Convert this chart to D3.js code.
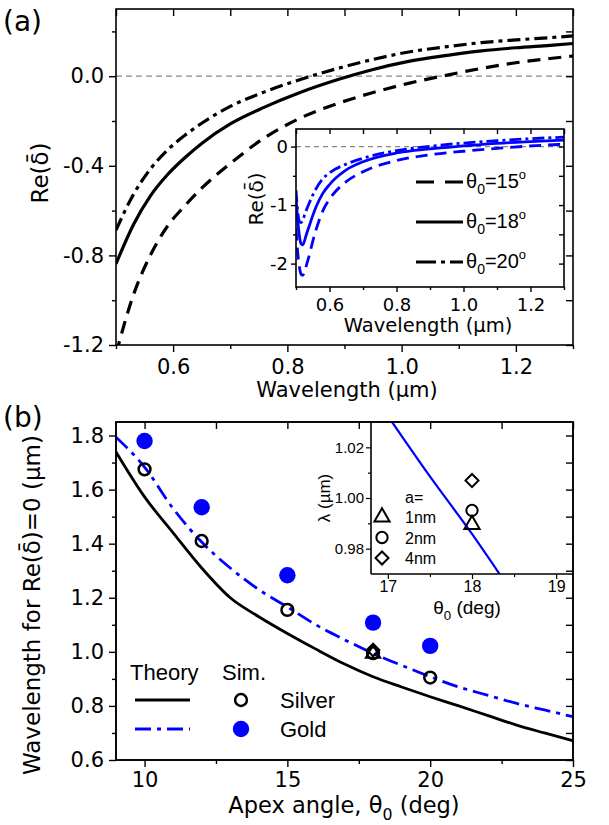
<!DOCTYPE html>
<html>
<head>
<meta charset="utf-8">
<script src="https://cdn.jsdelivr.net/npm/d3@7"></script>
<style>
body { margin: 0; background: #fff; }
svg { font-family: "Liberation Sans", Arial, sans-serif; }
</style>
</head>
<body>
<svg id="chart" width="609" height="825"></svg>
<script>
// ---- panel (a): Re(delta) vs wavelength, silver ----
const aWl = [0.5, 0.53, 0.56, 0.59, 0.62, 0.65, 0.7, 0.76, 0.82, 0.89, 0.95, 1.01, 1.08, 1.14, 1.2, 1.26, 1.3];
const a15 = [-1.24, -0.98, -0.80, -0.67, -0.58, -0.50, -0.39, -0.275, -0.19, -0.12, -0.073, -0.033, 0.005, 0.035, 0.06, 0.079, 0.09];
const a18 = [-0.8375, -0.665, -0.535, -0.44, -0.365, -0.30, -0.213, -0.138, -0.075, -0.014, 0.03, 0.065, 0.093, 0.113, 0.127, 0.138, 0.146];
const a20 = [-0.6875, -0.53, -0.415, -0.33, -0.265, -0.21, -0.135, -0.07, -0.017, 0.036, 0.075, 0.107, 0.132, 0.15, 0.162, 0.172, 0.18];

// ---- inset (a): gold ----
const inWl = [0.5, 0.505, 0.51, 0.515, 0.52, 0.525, 0.53, 0.54, 0.55, 0.56, 0.58, 0.6, 0.65, 0.7, 0.8, 0.9, 1.0, 1.1, 1.2, 1.3];
const in15 = [-1.4, -1.8, -2.05, -2.18, -2.2, -2.15, -2.05, -1.85, -1.62, -1.42, -1.1, -0.9, -0.6, -0.43, -0.24, -0.14, -0.08, -0.03, 0.01, 0.04];
const in18 = [-0.9, -1.25, -1.52, -1.66, -1.68, -1.62, -1.52, -1.35, -1.18, -1.03, -0.8, -0.65, -0.4, -0.26, -0.11, -0.04, 0.01, 0.055, 0.085, 0.11];
const in20 = [-0.75, -1.1, -1.28, -1.3, -1.26, -1.18, -1.1, -0.96, -0.83, -0.72, -0.55, -0.45, -0.3, -0.2, -0.07, 0.005, 0.06, 0.1, 0.135, 0.16];
const legendA = ['15', '18', '20'];

// ---- panel (b): wavelength for Re(delta)=0 vs apex angle ----
const bTheta = [9, 10, 11, 12, 13, 14, 15, 16, 17, 18, 19, 20, 21, 22, 23, 24, 25];
const bSilverTheory = [1.739, 1.573, 1.44, 1.31, 1.20, 1.13, 1.068, 1.01, 0.955, 0.908, 0.87, 0.834, 0.80, 0.765, 0.73, 0.70, 0.671];
const bGoldTheory = [1.794, 1.683, 1.53, 1.406, 1.31, 1.23, 1.166, 1.10, 1.045, 0.994, 0.95, 0.908, 0.87, 0.84, 0.81, 0.785, 0.76];
const simTheta = [10, 12, 15, 18, 20];
const simSilver = [1.675, 1.41, 1.155, 0.995, 0.905];
const simGold = [1.78, 1.535, 1.283, 1.108, 1.022];
const simA1 = [18, 0.99];
const simA4 = [18, 1.007];

// ---- inset (b) ----
const ibTheta = [17.0, 17.5, 18.0, 18.4];
const ibLambda = [1.0324, 1.0085, 0.9858, 0.9664];
const ibPoints = [
    { a: '1nm', sym: 'tri', theta: 18, lambda: 0.9895 },
    { a: '2nm', sym: 'circ', theta: 18, lambda: 0.9951 },
    { a: '4nm', sym: 'dia', theta: 18, lambda: 1.0069 }
];

// ticks
const aXMajor = [0.6, 0.8, 1.0, 1.2], aXMinor = [0.5, 0.7, 0.9, 1.1, 1.3];
const aYMajor = [0.0, -0.4, -0.8, -1.2], aYMinor = [0.2, -0.2, -0.6, -1.0];
const inYMajor = [0, -1, -2], inYMinor = [-0.5, -1.5];
const bXMajor = [10, 15, 20, 25], bXMinor = [12.5, 17.5, 22.5];
const bYMajor = [0.6, 0.8, 1.0, 1.2, 1.4, 1.6, 1.8], bYMinor = [0.7, 0.9, 1.1, 1.3, 1.5, 1.7];
const ibXMajor = [17, 18, 19], ibXMinor = [17.5, 18.5];
const ibYMajor = [0.98, 1.00, 1.02], ibYMinor = [0.99, 1.01];

const BLUE = '#0000ff';
const AXFONT = '"DejaVu Sans", sans-serif';
const LGFONT = '"Liberation Sans", Arial, sans-serif';
const svg = d3.select('#chart');

function addAxes(g, x, y, o) {
    const yb = y.range()[0], yt = y.range()[1];
    const xl = x.range()[0], xr = x.range()[1];
    const style = sel => {
        sel.select('.domain').remove();
        sel.selectAll('line').attr('stroke', '#000').attr('stroke-width', 1.4);
        sel.selectAll('text').attr('font-size', o.fs).attr('fill', '#000').attr('font-family', o.font);
    };
    g.append('g').attr('transform', `translate(0,${yb})`)
        .call(d3.axisBottom(x).tickValues(o.xMinor).tickSize(o.minor).tickFormat('')).call(style);
    g.append('g').attr('transform', `translate(0,${yb})`)
        .call(d3.axisBottom(x).tickValues(o.xMajor).tickSize(o.major).tickPadding(o.padX).tickFormat(o.xFmt)).call(style);
    g.append('g').attr('transform', `translate(${xl},0)`)
        .call(d3.axisLeft(y).tickValues(o.yMinor).tickSize(o.minor).tickFormat('')).call(style);
    g.append('g').attr('transform', `translate(${xl},0)`)
        .call(d3.axisLeft(y).tickValues(o.yMajor).tickSize(o.major).tickPadding(o.padY).tickFormat(o.yFmt)).call(style);
    if (o.mirror) {
        g.append('g').attr('transform', `translate(0,${yt})`)
            .call(d3.axisTop(x).tickValues(o.xMajor.concat(o.xMinor)).tickSize(-o.major).tickFormat('')).call(style);
        g.append('g').attr('transform', `translate(${xr},0)`)
            .call(d3.axisRight(y).tickValues(o.yMajor.concat(o.yMinor)).tickSize(-o.major).tickFormat('')).call(style);
    }
    if (o.frame) {
        g.append('rect').attr('x', xl).attr('y', yt).attr('width', xr - xl).attr('height', yb - yt)
            .attr('fill', 'none').attr('stroke', '#000').attr('stroke-width', 1.6);
    }
}

function drawLine(g, xs, ys, x, y, color, dash, w, clip) {
    const pts = xs.map((d, i) => [d, ys[i]]);
    const line = d3.line().x(d => x(d[0])).y(d => y(d[1])).curve(d3.curveMonotoneX);
    const p = g.append('path').datum(pts).attr('d', line).attr('fill', 'none')
        .attr('stroke', color).attr('stroke-width', w);
    if (dash) p.attr('stroke-dasharray', dash);
    if (clip) p.attr('clip-path', `url(#${clip})`);
    return p;
}

function addClip(id, x, y) {
    svg.append('clipPath').attr('id', id).append('rect')
        .attr('x', x.range()[0]).attr('y', y.range()[1])
        .attr('width', x.range()[1] - x.range()[0]).attr('height', y.range()[0] - y.range()[1]);
}

function thetaText(sel, after, size) {
    sel.append('tspan').text('θ');
    sel.append('tspan').text('0').attr('font-size', size * 0.7).attr('dy', size * 0.3);
    sel.append('tspan').text(after).attr('dy', -size * 0.3);
}

const DASH = '13,8', DASHDOT = '13,5,4,5';

// ================= panel (a) =================
function drawPanelA() {
    const x = d3.scaleLinear().domain([0.5, 1.3]).range([116, 573]);
    const y = d3.scaleLinear().domain([-1.2, 0.3]).range([345, 9]);
    const g = svg.append('g');
    addClip('clipA', x, y);

    g.append('line').attr('x1', x(0.5)).attr('x2', x(1.3)).attr('y1', y(0)).attr('y2', y(0))
        .attr('stroke', '#888').attr('stroke-width', 1.2).attr('stroke-dasharray', '6,4');
    drawLine(g, aWl, a15, x, y, '#000', DASH, 3.2, 'clipA');
    drawLine(g, aWl, a18, x, y, '#000', null, 3.2, 'clipA');
    drawLine(g, aWl, a20, x, y, '#000', DASHDOT, 3.2, 'clipA');

    addAxes(g, x, y, {
        xMajor: aXMajor, xMinor: aXMinor, yMajor: aYMajor, yMinor: aYMinor,
        xFmt: d => d.toFixed(1), yFmt: d => d.toFixed(1), font: AXFONT,
        fs: 21, major: 7, minor: 4, padX: 7, padY: 5, mirror: true, frame: true
    });

    g.append('text').attr('x', 347).attr('y', 397).attr('text-anchor', 'middle')
        .attr('font-family', AXFONT).attr('font-size', 21).text('Wavelength (µm)');
    g.append('text').attr('transform', 'translate(48,173) rotate(-90)').attr('text-anchor', 'middle')
        .attr('font-family', AXFONT).attr('font-size', 23).text('Re(δ\u0304)');
    svg.append('text').attr('x', 3).attr('y', 31).attr('font-family', AXFONT).attr('font-size', 28).text('(a)');

    // inset
    const xi = d3.scaleLinear().domain([0.5, 1.3]).range([296, 564]);
    const yi = d3.scaleLinear().domain([-2.4, 0.3]).range([287, 129]);
    const gi = svg.append('g');
    addClip('clipAi', xi, yi);
    gi.append('rect').attr('x', 296).attr('y', 129).attr('width', 268).attr('height', 158).attr('fill', '#fff');
    gi.append('line').attr('x1', xi(0.5)).attr('x2', xi(1.3)).attr('y1', yi(0)).attr('y2', yi(0))
        .attr('stroke', '#888').attr('stroke-width', 1.2).attr('stroke-dasharray', '5,4');
    drawLine(gi, inWl, in15, xi, yi, BLUE, '12,7', 2.8, 'clipAi');
    drawLine(gi, inWl, in18, xi, yi, BLUE, null, 2.8, 'clipAi');
    drawLine(gi, inWl, in20, xi, yi, BLUE, '12,4,3,4', 2.8, 'clipAi');
    addAxes(gi, xi, yi, {
        xMajor: aXMajor, xMinor: aXMinor, yMajor: inYMajor, yMinor: inYMinor,
        xFmt: d => d.toFixed(1), yFmt: d => String(d), font: AXFONT,
        fs: 18, major: 5, minor: 3, padX: 6, padY: 3, mirror: true, frame: true
    });
    gi.append('text').attr('x', 428).attr('y', 332).attr('text-anchor', 'middle')
        .attr('font-family', AXFONT).attr('font-size', 19.5).text('Wavelength (µm)');
    gi.append('text').attr('transform', 'translate(263,199) rotate(-90)').attr('text-anchor', 'middle')
        .attr('font-family', AXFONT).attr('font-size', 20).text('Re(δ\u0304)');

    // legend
    const dashes = ['18,11', null, '20,5,4,5'];
    legendA.forEach((deg, i) => {
        const ly = 182 + i * 40;
        const l = gi.append('line').attr('x1', 416).attr('x2', 463).attr('y1', ly).attr('y2', ly)
            .attr('stroke', '#000').attr('stroke-width', 3);
        if (dashes[i]) l.attr('stroke-dasharray', dashes[i]);
        const t = gi.append('text').attr('x', 466).attr('y', ly + 6).attr('font-size', 20);
        thetaText(t, '=' + deg, 20);
        t.append('tspan').text('o').attr('font-size', 13).attr('dy', -9);
    });
}

// ================= panel (b) =================
function drawPanelB() {
    const x = d3.scaleLinear().domain([9, 25]).range([116, 573]);
    const y = d3.scaleLinear().domain([0.6, 1.85]).range([760, 422]);
    const g = svg.append('g');
    addClip('clipB', x, y);

    drawLine(g, bTheta, bSilverTheory, x, y, '#000', null, 2.8, 'clipB');
    drawLine(g, bTheta, bGoldTheory, x, y, BLUE, '16,6,4,6', 2.8, 'clipB');

    g.selectAll('.gold').data(simTheta).join('circle')
        .attr('cx', d => x(d)).attr('cy', (d, i) => y(simGold[i])).attr('r', 8.2).attr('fill', BLUE);
    g.selectAll('.silver').data(simTheta).join('circle')
        .attr('cx', d => x(d)).attr('cy', (d, i) => y(simSilver[i])).attr('r', 5.9)
        .attr('fill', 'none').attr('stroke', '#000').attr('stroke-width', 2.5);
    g.append('path').attr('d', d3.symbol(d3.symbolTriangle, 90)())
        .attr('transform', `translate(${x(simA1[0])},${y(simA1[1]) - 1})`)
        .attr('fill', 'none').attr('stroke', '#000').attr('stroke-width', 2);
    g.append('path').attr('d', d3.symbol(d3.symbolSquare, 80)())
        .attr('transform', `translate(${x(simA4[0])},${y(simA4[1])}) rotate(45)`)
        .attr('fill', 'none').attr('stroke', '#000').attr('stroke-width', 2);

    addAxes(g, x, y, {
        xMajor: bXMajor, xMinor: bXMinor, yMajor: bYMajor, yMinor: bYMinor,
        xFmt: d => String(d), yFmt: d => d.toFixed(1), font: AXFONT,
        fs: 21, major: 7, minor: 4, padX: 5, padY: 5, mirror: true, frame: true
    });

    const xt = g.append('text').attr('x', 344).attr('y', 813).attr('text-anchor', 'middle')
        .attr('font-family', AXFONT).attr('font-size', 22.5);
    xt.append('tspan').text('Apex angle, ');
    thetaText(xt, ' (deg)', 22.5);
    g.append('text').attr('transform', 'translate(40,605) rotate(-90)').attr('text-anchor', 'middle')
        .attr('font-family', AXFONT).attr('font-size', 23).text('Wavelength for Re(δ\u0304)=0 (µm)');
    svg.append('text').attr('x', 3).attr('y', 427).attr('font-family', AXFONT).attr('font-size', 28).text('(b)');

    // legend
    g.append('text').attr('x', 130).attr('y', 680).attr('font-size', 22).text('Theory');
    g.append('text').attr('x', 222).attr('y', 680).attr('font-size', 22).text('Sim.');
    g.append('line').attr('x1', 135).attr('x2', 190).attr('y1', 700).attr('y2', 700)
        .attr('stroke', '#000').attr('stroke-width', 3);
    g.append('line').attr('x1', 135).attr('x2', 190).attr('y1', 729).attr('y2', 729)
        .attr('stroke', BLUE).attr('stroke-width', 3).attr('stroke-dasharray', '16,6,4,6');
    g.append('circle').attr('cx', 241).attr('cy', 700).attr('r', 5.9)
        .attr('fill', 'none').attr('stroke', '#000').attr('stroke-width', 2.5);
    g.append('circle').attr('cx', 241).attr('cy', 729).attr('r', 8.2).attr('fill', BLUE);
    g.append('text').attr('x', 280).attr('y', 708).attr('font-size', 22).text('Silver');
    g.append('text').attr('x', 280).attr('y', 737).attr('font-size', 22).text('Gold');

    // inset
    const xi = d3.scaleLinear().domain([16.8, 19.2]).range([371, 573]);
    const yi = d3.scaleLinear().domain([0.97, 1.03]).range([574, 422]);
    const gi = svg.append('g');
    addClip('clipBi', xi, yi);
    gi.append('rect').attr('x', 371).attr('y', 422).attr('width', 202).attr('height', 152).attr('fill', '#fff');
    drawLine(gi, ibTheta, ibLambda, xi, yi, BLUE, null, 2.2, 'clipBi');
    const sym = { tri: d3.symbolTriangle, circ: d3.symbolCircle, dia: d3.symbolSquare };
    const size = { tri: 100, circ: 100, dia: 85 };
    ibPoints.forEach((p, i) => {
        gi.append('path').attr('d', d3.symbol(sym[p.sym], size[p.sym])())
            .attr('transform', `translate(${xi(p.theta)},${yi(p.lambda)})` + (p.sym === 'dia' ? ' rotate(45)' : ''))
            .attr('fill', 'none').attr('stroke', '#000').attr('stroke-width', 2);
        const ly = 517 + i * 20.5;
        gi.append('path').attr('d', d3.symbol(sym[p.sym], size[p.sym])())
            .attr('transform', `translate(382,${ly})` + (p.sym === 'dia' ? ' rotate(45)' : ''))
            .attr('fill', 'none').attr('stroke', '#000').attr('stroke-width', 2);
        gi.append('text').attr('x', 405).attr('y', ly + 6).attr('font-size', 16).text(p.a);
    });
    gi.append('text').attr('x', 405).attr('y', 503).attr('font-size', 16).text('a=');

    const s = sel => {
        sel.select('.domain').remove();
        sel.selectAll('line').attr('stroke', '#000').attr('stroke-width', 1.2);
        sel.selectAll('text').attr('font-size', 15).attr('fill', '#000').attr('font-family', LGFONT);
    };
    gi.append('g').attr('transform', 'translate(0,574)')
        .call(d3.axisBottom(xi).tickValues(ibXMinor).tickSize(3).tickFormat('')).call(s);
    gi.append('g').attr('transform', 'translate(0,574)')
        .call(d3.axisBottom(xi).tickValues(ibXMajor).tickSize(5).tickPadding(2).tickFormat(d => String(d))).call(s)
        .selectAll('text').attr('font-size', 16);
    gi.append('g').attr('transform', 'translate(371,0)')
        .call(d3.axisLeft(yi).tickValues(ibYMinor).tickSize(3).tickFormat('')).call(s);
    gi.append('g').attr('transform', 'translate(371,0)')
        .call(d3.axisLeft(yi).tickValues(ibYMajor).tickSize(5).tickPadding(2).tickFormat(d => d.toFixed(2))).call(s);
    gi.append('line').attr('x1', 371).attr('x2', 371).attr('y1', 422).attr('y2', 574)
        .attr('stroke', '#000').attr('stroke-width', 1.6);
    gi.append('line').attr('x1', 371).attr('x2', 573).attr('y1', 574).attr('y2', 574)
        .attr('stroke', '#000').attr('stroke-width', 1.6);
    const tt = gi.append('text').attr('x', 467).attr('y', 614).attr('text-anchor', 'middle').attr('font-size', 19);
    thetaText(tt, ' (deg)', 19);
    gi.append('text').attr('transform', 'translate(330,498) rotate(-90)').attr('text-anchor', 'middle')
        .attr('font-size', 17).text('λ (µm)');

    // main frame on top of the inset edges
    g.append('rect').attr('x', 116).attr('y', 422).attr('width', 457).attr('height', 338)
        .attr('fill', 'none').attr('stroke', '#000').attr('stroke-width', 1.6);
    svg.node().appendChild(g.node());
}

drawPanelA();
drawPanelB();
</script>
</body>
</html>
